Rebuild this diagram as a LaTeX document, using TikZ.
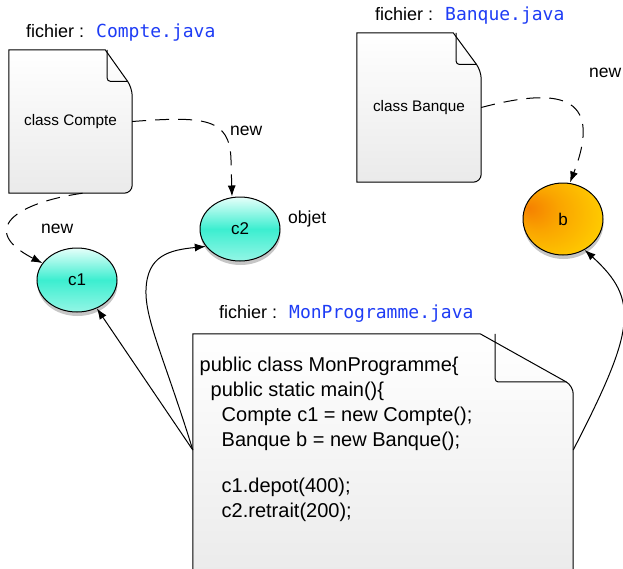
\documentclass[tikz,border=0pt]{standalone}
\usepackage{fontspec}
\setmainfont{Liberation Sans}
\setmonofont{DejaVu Sans Mono}
\usepackage{tikz}
\usetikzlibrary{calc,shapes,arrows.meta,shadows,backgrounds}

\definecolor{bleufic}{RGB}{30,60,245}
\definecolor{turq}{RGB}{60,238,208}
\definecolor{turqclair}{RGB}{230,255,250}
\definecolor{papier}{RGB}{234,234,234}
\definecolor{orfonce}{RGB}{245,128,0}
\definecolor{ormoyen}{RGB}{250,165,0}
\definecolor{orclair}{RGB}{255,205,0}
\definecolor{jaune}{RGB}{255,228,0}
\pgfdeclareradialshading{boule}{\pgfpoint{-22bp}{8bp}}{color(0bp)=(orfonce); color(14bp)=(ormoyen); color(34bp)=(orclair); color(50bp)=(jaune)}

% feuille : noeud, pli x, pli y, rabat x, arrondi
\newcommand{\feuille}[5]{%
  \coordinate (#1-a) at ([xshift=-#2pt]#1.north east);
  \coordinate (#1-b) at ([yshift=-#3pt]#1.north east);
  \coordinate (#1-c) at ([xshift=-#4pt]#1.north east);
  \coordinate (#1-p) at ($(#1-b)!#5pt!(#1-a)$);
  \draw[feuil] (#1.south west) -- (#1.north west) -- (#1-a)
    [rounded corners=#5pt] -- (#1-b) -- (#1.south east) [sharp corners] -- cycle;
  \draw[line width=1pt, rounded corners=3pt] (#1-c) -- (#1-c |- #1-p) -- (#1-p);
}
\newcommand{\nomfic}[1]{fichier :\hspace{12pt}{\ttfamily\color{bleufic}#1}}

\begin{document}
\begin{tikzpicture}[x=1pt,y=-1pt,
    feuil/.style={draw, line width=1pt, top color=white, bottom color=papier},
    fichier/.style={rectangle, inner sep=0pt, font=\fontsize{15.3}{18}\selectfont},
    objet/.style={ellipse, draw, line width=1pt, minimum width=80pt, minimum height=64pt,
      font=\fontsize{17}{20}\selectfont,
      drop shadow={opacity=0.45, shadow xshift=0.5pt, shadow yshift=-4pt}},
    instcompte/.style={objet, top color=turqclair, bottom color=turq!55!white, middle color=turq},
    instbanque/.style={objet, minimum height=72pt, shading=boule},
    etiq/.style={inner sep=0pt, anchor=base west, font=\fontsize{17.5}{20}\selectfont},
    fleche/.style={line width=1pt, -{Latex[length=11pt,width=8pt]}},
    pointille/.style={fleche, dash pattern=on 14pt off 9pt}]
  \useasboundingbox (0,0) rectangle (623,568);
  \clip (0,0) rectangle (623,568);

  \node[fichier, minimum width=123pt, minimum height=143pt] (compte) at (70.5,121.5) {class Compte};
  \node[fichier, minimum width=124pt, minimum height=149pt] (banque) at (419,107.5) {class Banque};
  \node[fichier, minimum width=380pt, minimum height=250pt] (prog) at (383,459) {};
  \begin{scope}[on background layer]
    \feuille{compte}{27}{38}{25}{8}
    \feuille{banque}{28}{38}{25}{8}
    \feuille{prog}{93}{52}{78}{8}
  \end{scope}

  \node[inner sep=0pt, anchor=north west, align=left, font=\fontsize{20}{25}\selectfont] (source) at (199.5,357)
    {public class MonProgramme\{\\
     \hspace*{11pt}public static main()\{\\
     \hspace*{22pt}Compte c1 = new Compte();\\
     \hspace*{22pt}Banque b = new Banque();\\[21pt]
     \hspace*{22pt}c1.depot(400);\\
     \hspace*{22pt}c2.retrait(200);};

  \node[etiq, font=\fontsize{18}{20}\selectfont] (ficcompte) at (26,37) {\nomfic{Compte.java}};
  \node[etiq, font=\fontsize{18}{20}\selectfont] (ficbanque) at (375,20) {\nomfic{Banque.java}};
  \node[etiq, font=\fontsize{18}{20}\selectfont] (ficprog) at (219,318) {\nomfic{MonProgramme.java}};

  \node[instcompte] (c1) at (77,280) {c1};
  \node[instcompte] (c2) at (240,229) {c2};
  \node[instbanque] (b) at (563,219) {b};

  \node[etiq] (new1) at (41,233) {new};
  \node[etiq] (new2) at (230,135) {new};
  \node[etiq] (new3) at (589,77) {new};
  \node[etiq] (nomobjet) at (288,223) {objet};

  % creation des objets
  \draw[pointille] (compte.east) .. controls (205,116) and (230,118) .. (231,160) -- ([xshift=-8pt]c2.north);
  \draw[pointille] ([xshift=12pt]compte.south) .. controls (15,203) and (-22,230) .. (c1.154);
  \draw[pointille] (banque.east) .. controls (555,88) and (605,92) .. ([xshift=7pt]b.north);

  % references depuis le programme
  \coordinate (gauche) at ([yshift=9pt]prog.west);
  \coordinate (droite) at ([yshift=9pt]prog.east);
  \draw[fleche] (gauche) -- (c1.-55);
  \draw[fleche] (gauche) .. controls (165,360) and (145,320) .. (146,290) .. controls (147,255) and (170,250) .. (c2.207);
  \draw[fleche] (droite) .. controls (635,330) and (640,300) .. (b.-55);
\end{tikzpicture}
\end{document}
